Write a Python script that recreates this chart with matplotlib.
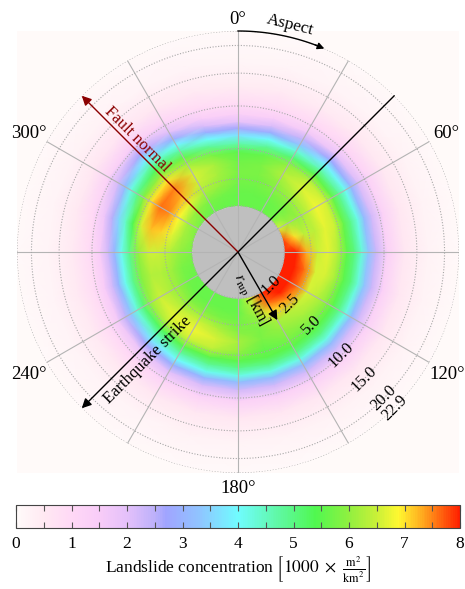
import numpy as np
import matplotlib
matplotlib.use('Agg')
from matplotlib import pyplot as plt
from matplotlib.colors import LinearSegmentedColormap, Normalize
from matplotlib.ticker import MultipleLocator

plt.rcParams['font.family'] = ['Liberation Serif', 'DejaVu Serif']
plt.rcParams['mathtext.fontset'] = 'stix'

# grid nodes of the concentration map
aspect_deg = [0, 15, 30, 45, 60, 75, 90, 105, 120, 135, 150, 165,
              180, 195, 210, 225, 240, 255, 270, 285, 300, 315, 330, 345]
r_rup_km = [1.0, 1.6, 2.2, 3.0, 3.8, 4.7, 5.6, 6.4, 7.2, 8.0, 9.0, 10.5, 13.0, 17.0, 22.9]

# landslide concentration [1000 m2/km2], one row per aspect, one column per r_rup
concentration = [
    [5.6, 5.6, 5.7, 5.8, 5.7, 5.5, 4.6, 3.7, 2.65, 1.9, 1.3, 0.85, 0.42, 0.18, 0.07],
    [5.6, 5.6, 5.7, 5.8, 5.8, 5.6, 4.8, 4.0, 2.9, 2.1, 1.4, 0.9, 0.44, 0.19, 0.07],
    [5.6, 5.6, 5.8, 6.0, 6.3, 6.0, 5.1, 4.3, 3.3, 2.4, 1.6, 0.95, 0.46, 0.2, 0.08],
    [5.7, 5.7, 5.9, 6.3, 6.6, 6.4, 5.5, 4.6, 3.85, 2.75, 1.9, 1.1, 0.5, 0.21, 0.08],
    [6.6, 6.1, 6.0, 6.4, 6.8, 6.6, 5.6, 4.8, 4.1, 3.0, 2.1, 1.2, 0.52, 0.22, 0.08],
    [7.8, 7.0, 6.4, 6.4, 6.7, 6.5, 5.6, 4.9, 4.2, 3.15, 2.2, 1.25, 0.54, 0.22, 0.08],
    [8.0, 8.0, 7.3, 6.5, 6.7, 6.3, 5.5, 5.0, 4.3, 3.3, 2.3, 1.3, 0.55, 0.23, 0.09],
    [8.0, 8.0, 7.6, 6.6, 6.6, 6.2, 5.5, 5.0, 4.3, 3.3, 2.3, 1.3, 0.55, 0.23, 0.09],
    [8.0, 8.0, 7.6, 6.6, 6.4, 6.0, 5.5, 4.9, 4.2, 3.15, 2.2, 1.25, 0.54, 0.22, 0.08],
    [8.0, 8.0, 7.4, 6.4, 6.2, 5.9, 5.5, 4.9, 4.2, 3.15, 2.2, 1.25, 0.54, 0.22, 0.08],
    [8.0, 7.6, 7.0, 6.2, 6.0, 5.8, 5.5, 4.9, 4.2, 3.15, 2.2, 1.25, 0.54, 0.22, 0.08],
    [6.6, 6.3, 6.0, 5.8, 5.8, 5.6, 5.5, 4.9, 4.2, 3.15, 2.2, 1.25, 0.54, 0.22, 0.08],
    [5.6, 5.6, 5.7, 5.9, 6.2, 6.0, 5.5, 4.9, 4.2, 3.15, 2.2, 1.25, 0.54, 0.22, 0.08],
    [5.6, 5.6, 5.8, 6.3, 6.6, 6.4, 5.5, 4.8, 4.1, 3.0, 2.1, 1.2, 0.52, 0.22, 0.08],
    [5.6, 5.6, 5.9, 6.5, 6.8, 6.5, 5.5, 4.7, 4.0, 2.9, 2.0, 1.15, 0.5, 0.21, 0.08],
    [5.6, 5.6, 5.9, 6.4, 6.7, 6.4, 5.3, 4.5, 3.7, 2.65, 1.8, 1.05, 0.48, 0.2, 0.08],
    [5.6, 5.7, 6.0, 6.3, 6.5, 6.1, 5.1, 4.3, 3.3, 2.4, 1.6, 0.95, 0.46, 0.2, 0.08],
    [5.7, 5.8, 6.1, 6.3, 6.3, 5.9, 4.9, 4.1, 3.0, 2.2, 1.45, 0.9, 0.44, 0.19, 0.07],
    [5.8, 6.0, 6.3, 6.5, 6.5, 6.0, 4.9, 4.1, 3.0, 2.2, 1.45, 0.9, 0.44, 0.19, 0.07],
    [5.9, 6.2, 6.7, 7.1, 7.2, 6.6, 5.4, 4.4, 3.5, 2.5, 1.7, 1.0, 0.48, 0.2, 0.08],
    [5.8, 6.2, 6.9, 7.5, 7.6, 7.0, 5.9, 4.9, 4.2, 3.15, 2.2, 1.25, 0.54, 0.22, 0.08],
    [5.7, 6.0, 6.7, 7.3, 7.5, 7.0, 6.0, 5.3, 4.6, 3.85, 2.65, 1.45, 0.6, 0.24, 0.09],
    [5.6, 5.8, 6.2, 6.5, 6.6, 6.2, 5.6, 4.7, 4.0, 2.9, 2.0, 1.15, 0.5, 0.21, 0.08],
    [5.6, 5.7, 6.0, 6.2, 6.2, 5.8, 4.8, 4.0, 2.9, 2.1, 1.4, 0.9, 0.44, 0.19, 0.07],
]

ring_labels = [1.0, 2.5, 5.0, 10.0, 15.0, 20.0, 22.9]
theta_ticks = [0, 60, 120, 180, 240, 300]
strike_deg = 225
normal_deg = 315
r_arrow_km = 2.9
background_value = 0.04

# colour scale
cbar_stops = [0.0, 0.5, 1.0, 1.5, 2.0, 2.5, 2.7, 3.3, 4.0, 4.7, 5.4, 6.0, 6.5, 6.9, 7.3, 8.0]
cbar_colors = ['#fffbfa', '#ffe8f2', '#ffd8f6', '#f8ccf8', '#e4c0fa', '#bcb0fa', '#a0a4ff',
               '#90c4ff', '#70fcff', '#60f8a8', '#50f850', '#90f040', '#c8f038', '#fff830',
               '#ffb020', '#ff2000']
cmap = LinearSegmentedColormap.from_list('landslide',
                                         list(zip(np.array(cbar_stops) / 8.0, cbar_colors)))
norm = Normalize(0, 8)

# radial axis is drawn on a square-root scale
rho = np.sqrt(r_rup_km)
rho_max = np.sqrt(r_rup_km[-1])
theta = np.deg2rad(np.append(aspect_deg, 360))
C = np.array(concentration)
C = np.vstack((C, C[:1]))

fig = plt.figure(figsize=(4.65, 5.89), dpi=100)
pos = [17 / 465, 116 / 589, 442 / 465, 442 / 589]

# pale square behind the polar plot
bg = fig.add_axes(pos, zorder=0)
bg.set_facecolor(cmap(norm(background_value)))
bg.set_xticks([])
bg.set_yticks([])
for s in bg.spines.values():
    s.set_visible(False)

ax = fig.add_axes(pos, projection='polar', zorder=1)
ax.set_facecolor('none')
ax.set_theta_zero_location('N')
ax.set_theta_direction(-1)

TH, RH = np.meshgrid(theta, rho, indexing='ij')
mesh = ax.pcolormesh(TH, RH, C, cmap=cmap, norm=norm, shading='gouraud', zorder=0.5)

# gray disk inside r_rup = 1 km
tt = np.linspace(0, 2 * np.pi, 200)
ax.fill_between(tt, 0, 1, color='#bfbfbf', lw=0, zorder=0.8)

ax.set_ylim(0, rho_max)
ax.set_thetagrids(np.arange(0, 360, 30), [''] * 12)
ax.set_rgrids(np.sqrt(ring_labels), [''] * len(ring_labels))
ax.xaxis.grid(True, color='#b4b4b4', lw=0.8, ls='-')
ax.yaxis.grid(True, color='#a8a8a8', lw=0.8, ls=(0, (1, 1.5)))
ax.spines['polar'].set_visible(False)

# aspect labels outside the circle
for a in theta_ticks:
    d = (13.5 + 7.5 * abs(np.sin(np.deg2rad(a)))) * 0.72
    ax.annotate('{:d}°'.format(a), xy=(np.deg2rad(a), rho_max),
                xytext=(d * np.sin(np.deg2rad(a)), d * np.cos(np.deg2rad(a)) - 1.5),
                textcoords='offset points', ha='center', va='center', fontsize=13.5,
                annotation_clip=False)

# ring labels along 135 deg
for v in ring_labels:
    ax.text(np.deg2rad(135), np.sqrt(v), '{:.1f}'.format(v), rotation=45,
            ha='center', va='center', fontsize=12, zorder=5)

# earthquake strike line with arrow
ax.annotate('', xy=(np.deg2rad(strike_deg), rho_max), xytext=(np.deg2rad(strike_deg - 180), rho_max),
            arrowprops=dict(arrowstyle='-|>', color='k', lw=1, mutation_scale=14,
                            shrinkA=0, shrinkB=0), zorder=4)
ax.text(np.deg2rad(220), 3.05, 'Earthquake strike', rotation=45, ha='center', va='center',
        fontsize=12, zorder=5)

# fault normal arrow
ax.annotate('', xy=(np.deg2rad(normal_deg), rho_max), xytext=(0, 0),
            arrowprops=dict(arrowstyle='-|>', color='darkred', lw=1, mutation_scale=14,
                            shrinkA=0, shrinkB=0), zorder=4)
ax.text(np.deg2rad(318), 3.27, 'Fault normal', rotation=-45, ha='center', va='center',
        fontsize=12, color='darkred', zorder=5)

# r_rup arrow
ax.annotate('', xy=(np.deg2rad(150), np.sqrt(r_arrow_km)), xytext=(0, 0),
            arrowprops=dict(arrowstyle='-|>', color='k', lw=1, mutation_scale=14,
                            shrinkA=0, shrinkB=0), zorder=4)
ax.text(np.deg2rad(166), 1.07, r'$r_{\mathrm{rup}}$ [km]', rotation=-62, ha='center',
        va='center', fontsize=11.5, zorder=5)

# aspect arc
arc = np.deg2rad(np.linspace(0, 21, 40))
ax.plot(arc, np.full_like(arc, rho_max), color='k', lw=1, clip_on=False, zorder=4)
ax.annotate('', xy=(np.deg2rad(23), rho_max), xytext=(np.deg2rad(20.5), rho_max),
            arrowprops=dict(arrowstyle='-|>', color='k', lw=1, mutation_scale=10,
                            shrinkA=0, shrinkB=0), annotation_clip=False, zorder=4)
ax.text(np.deg2rad(13), rho_max * 1.055, 'Aspect', rotation=-14, ha='center', va='center',
        fontsize=12.5)

# colorbar
cax = fig.add_axes([16 / 465, 61 / 589, 444 / 465, 23 / 589])
cb = fig.colorbar(mesh, cax=cax, orientation='horizontal')
cb.set_ticks(range(9))
cax.xaxis.set_minor_locator(MultipleLocator(0.5))
cax.tick_params(which='both', direction='in', top=True, bottom=True, length=4,
                width=0.8, color='#555555', labelsize=12.5, pad=6)
cb.outline.set_edgecolor('#444444')
cb.outline.set_linewidth(0.8)
cb.set_label(r'Landslide concentration $\left[1000\ \times\ \frac{\mathrm{m}^2}{\mathrm{km}^2}\right]$',
             fontsize=12.5, labelpad=2)

fig.savefig('out.png', dpi=100)
